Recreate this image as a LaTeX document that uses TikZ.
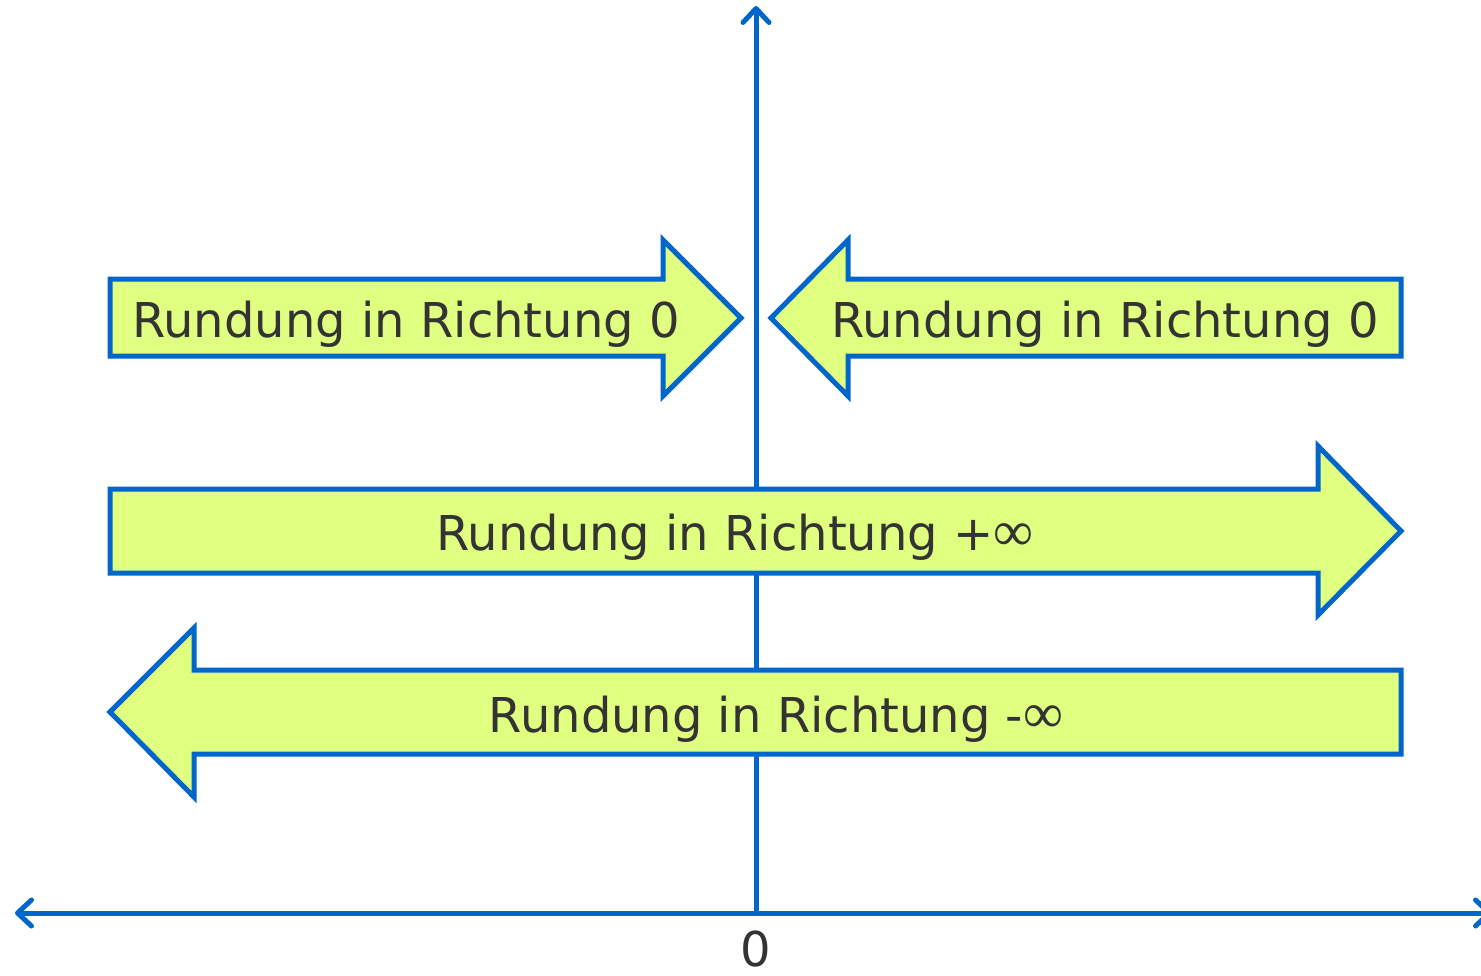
\documentclass[tikz,border=0pt]{standalone}
\usepackage{fontspec}
\setmainfont{DejaVu Sans}
\newfontfamily\inffont{Liberation Serif}
\usetikzlibrary{arrows.meta}
\definecolor{axblue}{HTML}{0066CC}
\definecolor{arrfill}{HTML}{E0FF80}
\definecolor{txt}{HTML}{333333}
\newcommand{\infsym}{{\inffont\fontsize{56}{60}\selectfont ∞}}
\tikzset{
  bigarrow/.style={draw=axblue, fill=arrfill, line width=5pt, line join=miter},
  axis/.style={draw=axblue, line width=5pt, -{Straight Barb[length=14pt,width=26pt,line cap=round,line join=round]}},
  lbl/.style={text=txt, font=\fontsize{48}{56}\selectfont, inner sep=0pt, anchor=base},
}
\begin{document}
\begin{tikzpicture}[x=1pt,y=-1pt]
\useasboundingbox (0,0) rectangle (1481,975);
\fill[white] (0,0) rectangle (1481,975);
% axes
\coordinate (o) at (756,913);
\coordinate (ytop) at (756,6);
\coordinate (xl) at (15,913);
\coordinate (xr) at (1492,913);
\draw[axis] (o) -- (ytop);
\draw[axis] (o) -- (xl);
\draw[axis] (o) -- (xr);
% arrow 1 (right, top-left)
\draw[bigarrow] (110,279) -- (663,279) -- (663,240) -- (741,318) -- (663,396) -- (663,356) -- (110,356) -- cycle;
% arrow 2 (left, top-right)
\draw[bigarrow] (1401,279) -- (848,279) -- (848,240) -- (771,318) -- (848,396) -- (848,356) -- (1401,356) -- cycle;
% arrow 3 (+inf)
\draw[bigarrow] (110,489) -- (1318,489) -- (1318,446) -- (1401,531) -- (1318,615) -- (1318,573) -- (110,573) -- cycle;
% arrow 4 (-inf)
\draw[bigarrow] (1401,670) -- (194,670) -- (194,628) -- (110,712) -- (194,797) -- (194,754) -- (1401,754) -- cycle;
% labels
\node[lbl] (t1) at (406,337) {Rundung in Richtung 0};
\node[lbl] (t2) at (1105,337) {Rundung in Richtung 0};
\node[lbl] (t3) at (735,550) {Rundung in Richtung +\infsym};
\node[lbl] (t4) at (776,732) {Rundung in Richtung -\infsym};
\node[lbl] (zero) at (756,966) {0};
\end{tikzpicture}
\end{document}
